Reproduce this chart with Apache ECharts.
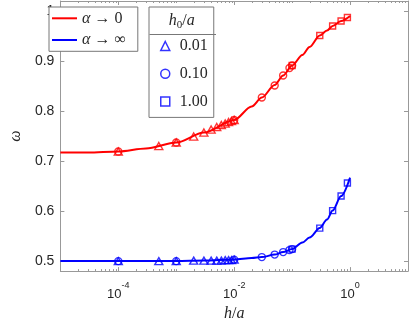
<!DOCTYPE html>
<html><head><meta charset="utf-8">
<script src="https://cdn.jsdelivr.net/npm/echarts@6/dist/echarts.min.js"></script>
<style>html,body{margin:0;padding:0;background:#fff}#c{width:411px;height:327px}</style>
</head><body><div id="c"></div>
<script>
// ---- data ----
const curveH    = [1e-5, 3e-5, 1e-4, 3e-4, 1e-3, 3e-3, 1e-2, 2e-2, 3e-2, 5e-2, 7e-2, 1e-1, 1.5e-1, 2e-1, 3e-1, 4e-1, 5e-1, 7e-1, 1];
const curveRed  = [0.717,0.717,0.719,0.725,0.737,0.757,0.782,0.809,0.827,0.852,0.871,0.891,0.912,0.928,0.951,0.961,0.970,0.980,0.990];
const curveBlue = [0.500,0.500,0.500,0.500,0.500,0.501,0.503,0.506,0.508,0.513,0.518,0.524,0.537,0.547,0.566,0.583,0.601,0.630,0.667];

const triH    = [1e-4, 5e-4, 1e-3, 2e-3, 3e-3, 4e-3, 5e-3, 6e-3, 7e-3, 8e-3, 9e-3, 1e-2];
const triRed  = [0.719,0.730,0.737,0.749,0.757,0.763,0.768,0.772,0.775,0.778,0.780,0.782];
const triBlue = [0.500,0.500,0.500,0.501,0.501,0.501,0.501,0.501,0.502,0.502,0.502,0.503];

const cirH    = [1e-4, 1e-3, 1e-2, 0.03, 0.05, 0.07, 0.09, 0.1];
const cirRed  = [0.719,0.737,0.782,0.827,0.851,0.871,0.886,0.891];
const cirBlue = [0.500,0.500,0.503,0.508,0.513,0.518,0.522,0.524];

const sqH     = [0.1, 0.3, 0.5, 0.7, 0.9];
const sqRed   = [0.891,0.951,0.970,0.980,0.987];
const sqBlue  = [0.524,0.566,0.601,0.630,0.656];

const curveNames  = ['α → 0', 'α → ∞'];
const markerNames = ['0.01', '0.10', '1.00'];
const yTickLabels = [0.5, 0.6, 0.7, 0.8, 0.9, 1];
const xLabelExps  = [-4, -2, 0];
const xMajorTicks = [1e-4, 1e-2, 1];
const minorMant   = [2, 3, 4, 5, 6, 7, 8, 9];
const minorDecades= [-5, -4, -3, -2, -1, 0];
const oddDecades  = [1e-3, 1e-1];

// ---- chart ----
const AX = '#999', TXT = '#262626', RED = '#ff0000', BLUE = '#0000ff';
const SERIF = '"Liberation Serif", "DejaVu Serif", serif';
const SANS = '"Liberation Sans", Arial, sans-serif';
const X_MIN = 1e-5, X_MAX = 10, Y_MIN = 0.48, Y_MAX = 1.02;

const xMinorTicks = oddDecades.slice();
minorDecades.forEach(d => minorMant.forEach(m => xMinorTicks.push(m * Math.pow(10, d))));

const zip = (xs, ys) => xs.map((x, i) => [x, ys[i]]);

function tickSeries(vals, len) {
  return {
    type: 'custom', silent: true, clip: false, z: 5,
    data: vals.map(v => [v, Y_MIN]),
    renderItem(params, api) {
      const b = api.coord([api.value(0), Y_MIN]);
      const t = api.coord([api.value(0), Y_MAX]);
      const x = Math.round(b[0]) + 0.5;
      return { type: 'group', children: [
        { type: 'line', shape: { x1: x, y1: b[1], x2: x, y2: b[1] - len }, style: { stroke: AX, lineWidth: 1 } },
        { type: 'line', shape: { x1: x, y1: t[1], x2: x, y2: t[1] + len }, style: { stroke: AX, lineWidth: 1 } }
      ]};
    }
  };
}

function markerSeries(name, symbol, size, xs, ys, color) {
  return {
    name, type: 'scatter', symbol, symbolSize: size, z: 4,
    data: zip(xs, ys),
    itemStyle: { color: 'rgba(0,0,0,0)', borderColor: color, borderWidth: 1.4 }
  };
}

const mkLegendItem = (name, icon) => ({
  name, icon, itemStyle: { color: 'rgba(0,0,0,0)', borderColor: BLUE, borderWidth: 1.5 }
});

const option = {
  animation: false,
  backgroundColor: '#fff',
  grid: { left: 43, right: 1, top: 1, bottom: 47 },
  xAxis: [{
    type: 'log', logBase: 10, min: X_MIN, max: X_MAX, interval: 1,
    name: '{i|h}{n|/}{i|a}', nameLocation: 'middle', nameGap: 27,
    nameTextStyle: { rich: {
      i: { fontFamily: SERIF, fontStyle: 'italic', fontSize: 16, color: TXT },
      n: { fontFamily: SERIF, fontSize: 16, color: TXT } } },
    axisLine: { show: true, lineStyle: { color: AX, width: 1 } },
    axisTick: { show: false },
    splitLine: { show: false },
    axisLabel: {
      margin: 10, color: TXT, interval: 0, hideOverlap: false,
      formatter: v => {
        const e = Math.round(Math.log10(v));
        return xLabelExps.includes(e) ? '{b|10}{s|' + e + '}' : '';
      },
      rich: {
        b: { fontFamily: SANS, fontSize: 13, color: TXT, lineHeight: 20, verticalAlign: 'bottom' },
        s: { fontFamily: SANS, fontSize: 9, color: TXT, lineHeight: 9, verticalAlign: 'top' }
      }
    }
  }, {
    type: 'log', logBase: 10, min: X_MIN, max: X_MAX, position: 'top',
    axisLine: { show: true, lineStyle: { color: AX, width: 1 } },
    axisTick: { show: false }, axisLabel: { show: false }, splitLine: { show: false }
  }],
  yAxis: [{
    type: 'value', min: Y_MIN, max: Y_MAX, splitNumber: 5,
    name: 'ω', nameLocation: 'middle', nameGap: 31,
    nameTextStyle: { fontFamily: SERIF, fontStyle: 'italic', fontSize: 16, color: TXT },
    axisLine: { show: true, lineStyle: { color: AX, width: 1 } },
    axisTick: { show: true, inside: true, length: 4, lineStyle: { color: AX } },
    splitLine: { show: false },
    axisLabel: {
      margin: 6, color: TXT, fontFamily: SANS, fontSize: 14,
      formatter: v => {
        const r = Math.round(v * 10) / 10;
        return (Math.abs(v - r) < 1e-6 && yTickLabels.includes(r)) ? String(r) : '';
      }
    }
  }, {
    type: 'value', min: Y_MIN, max: Y_MAX, splitNumber: 5, position: 'right',
    axisLine: { show: true, lineStyle: { color: AX, width: 1 } },
    axisTick: { show: true, inside: true, length: 4, lineStyle: { color: AX } },
    axisLabel: { show: false }, splitLine: { show: false }
  }],
  legend: [{
    data: curveNames, orient: 'vertical', left: 49, top: 7,
    icon: 'rect', itemWidth: 25, itemHeight: 2, itemGap: 5.7,
    padding: [3.3, 12, 3.3, 3], selectedMode: false,
    backgroundColor: '#fff', borderColor: '#777', borderWidth: 1,
    textStyle: { fontFamily: SERIF, fontSize: 16, lineHeight: 16, color: TXT,
      rich: { i: { fontFamily: SERIF, fontStyle: 'italic', fontSize: 16, lineHeight: 16, color: TXT } } },
    formatter: n => '{i|α}' + n.slice(1)
  }, {
    data: [mkLegendItem(markerNames[0], 'triangle'), mkLegendItem(markerNames[1], 'circle'), mkLegendItem(markerNames[2], 'rect')],
    orient: 'vertical', left: 149, top: 7,
    itemWidth: 9, itemHeight: 9, itemGap: 11.7,
    padding: [31, 6, 8, 11], selectedMode: false,
    backgroundColor: '#fff', borderColor: '#777', borderWidth: 1,
    textStyle: { fontFamily: SERIF, fontSize: 16, color: TXT, padding: [0, 0, 0, 5] }
  }],
  graphic: [{
    type: 'text', x: 181.7, y: 20.5, z: 100,
    style: {
      text: '{i|h}{sub|0}{n|/}{i|a}', align: 'center', verticalAlign: 'middle',
      rich: {
        i: { fontFamily: SERIF, fontStyle: 'italic', fontSize: 16, fill: TXT, lineHeight: 20, verticalAlign: 'middle' },
        n: { fontFamily: SERIF, fontSize: 16, fill: TXT, lineHeight: 20, verticalAlign: 'middle' },
        sub: { fontFamily: SERIF, fontSize: 11, fill: TXT, lineHeight: 11, verticalAlign: 'bottom' }
      }
    }
  }, {
    type: 'line', z: 100,
    shape: { x1: 149.5, y1: 34.5, x2: 216, y2: 34.5 },
    style: { stroke: '#777', lineWidth: 1 }
  }],
  series: [
    tickSeries(xMinorTicks, 2),
    tickSeries(xMajorTicks, 4),
    { name: curveNames[0], type: 'line', data: zip(curveH, curveRed), symbol: 'none', smooth: 0.3, smoothMonotone: 'x',
      lineStyle: { color: RED, width: 2 }, itemStyle: { color: RED }, z: 3 },
    { name: curveNames[1], type: 'line', data: zip(curveH, curveBlue), symbol: 'none', smooth: 0.3, smoothMonotone: 'x',
      lineStyle: { color: BLUE, width: 2 }, itemStyle: { color: BLUE }, z: 3 },
    markerSeries(markerNames[0], 'triangle', [8, 7], triH, triBlue, BLUE),
    markerSeries(markerNames[1], 'circle', 7, cirH, cirBlue, BLUE),
    markerSeries(markerNames[2], 'rect', 6, sqH, sqBlue, BLUE),
    markerSeries(markerNames[0], 'triangle', [8, 7], triH, triRed, RED),
    markerSeries(markerNames[1], 'circle', 7, cirH, cirRed, RED),
    markerSeries(markerNames[2], 'rect', 6, sqH, sqRed, RED)
  ]
};

const chart = echarts.init(document.getElementById('c'));
chart.setOption(option);
</script>
</body></html>
